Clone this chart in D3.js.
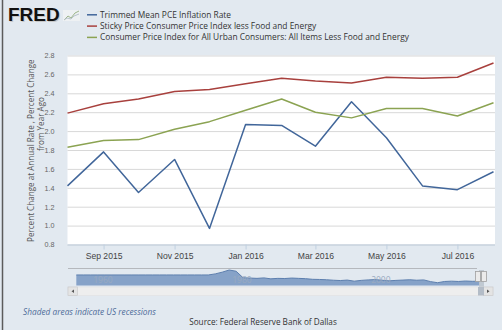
<!DOCTYPE html>
<html>
<head>
<meta charset="utf-8">
<script src="https://cdn.jsdelivr.net/npm/d3@7"></script>
<style>
  body { margin: 0; background: #fff; }
  svg { display: block; font-family: "Open Sans", sans-serif; }
</style>
</head>
<body>
<div id="chart"></div>
<script>
// monthly observations, Aug 2015 .. Aug 2016
const months = ["2015-08-01", "2015-09-01", "2015-10-01", "2015-11-01", "2015-12-01", "2016-01-01",
  "2016-02-01", "2016-03-01", "2016-04-01", "2016-05-01", "2016-06-01", "2016-07-01", "2016-08-01"];
const trimmedPce = [1.42, 1.78, 1.35, 1.70, 0.97, 2.07, 2.06, 1.84, 2.31, 1.93, 1.42, 1.38, 1.57];
const stickyCpi = [2.19, 2.29, 2.34, 2.42, 2.44, 2.50, 2.56, 2.53, 2.51, 2.57, 2.56, 2.57, 2.72];
const coreCpi = [1.83, 1.90, 1.91, 2.02, 2.10, 2.22, 2.34, 2.20, 2.14, 2.24, 2.24, 2.16, 2.30];

const seriesNames = [
  "Trimmed Mean PCE Inflation Rate",
  "Sticky Price Consumer Price Index less Food and Energy",
  "Consumer Price Index for All Urban Consumers: All Items Less Food and Energy"
];
const seriesColors = ["#41669a", "#a8403d", "#8ba352"];

const yTicks = [0.8, 1.0, 1.2, 1.4, 1.6, 1.8, 2.0, 2.2, 2.4, 2.6, 2.8];
const xTickDates = ["2015-09-01", "2015-11-01", "2016-01-01", "2016-03-01", "2016-05-01", "2016-07-01"];

// navigator overview (yearly, rough reading)
const navYears = d3.range(1958, 2017);
const navValues = [6.8, 6.8, 6.8, 6.8, 6.8, 6.8, 6.8, 6.8, 6.8, 6.8, 6.8, 6.8, 6.8, 6.8, 6.8, 6.8, 6.8, 6.8, 6.8, 6.8,
  7.5, 8.6, 10.0, 9.2, 5.0, 4.8, 4.6, 4.9, 4.3, 4.6, 4.5, 4.8, 4.6, 4.4, 4.0, 3.9, 3.7, 3.4, 3.2, 3.5, 2.8, 3.3,
  3.6, 3.8, 3.4, 3.0, 3.3, 3.5, 3.7, 3.4, 3.6, 2.5, 1.8, 2.6, 2.8, 2.6, 2.9, 2.7, 2.8];
const navTicks = [1960, 1980, 2000];

const W = 502, H = 335;
const parse = d3.utcParse("%Y-%m-%d");

const svg = d3.select("#chart").append("svg")
  .attr("width", W)
  .attr("height", H);

svg.append("rect").attr("width", W).attr("height", 330).attr("fill", "#e2e9f0");
svg.append("line")
  .attr("x1", 2.5).attr("x2", 2.5).attr("y1", 0).attr("y2", 330)
  .attr("stroke", "#5b5b5b").attr("stroke-width", 1.5);

// logo
const logo = svg.append("g");
logo.append("text")
  .attr("x", 8).attr("y", 21)
  .style("font-family", "'Liberation Sans', Arial, sans-serif")
  .style("font-weight", 900)
  .style("font-size", "19px")
  .attr("fill", "#c8c8c8")
  .attr("transform", "translate(1,1)")
  .text("FRED");
logo.append("text")
  .attr("x", 8).attr("y", 21)
  .style("font-family", "'Liberation Sans', Arial, sans-serif")
  .style("font-weight", 900)
  .style("font-size", "19px")
  .attr("fill", "#111")
  .text("FRED");
logo.append("rect")
  .attr("x", 63).attr("y", 10).attr("width", 17).attr("height", 11)
  .attr("fill", "#eef1f3");
logo.append("path")
  .attr("d", "M64,20 L68,16 L71,18 L75,13 L79,11")
  .attr("fill", "none").attr("stroke", "#9db58a").attr("stroke-width", 1);
logo.append("path")
  .attr("d", "M64,20 L67,18 L71,19 L74,16 L79,14")
  .attr("fill", "none").attr("stroke", "#b9c3cc").attr("stroke-width", 1);

// legend
const legend = svg.append("g").selectAll("g")
  .data(seriesNames)
  .join("g")
  .attr("transform", (d, i) => `translate(87,${14.8 + i * 11.3})`);
legend.append("line")
  .attr("x1", 0).attr("x2", 10)
  .attr("stroke", (d, i) => seriesColors[i])
  .attr("stroke-width", 1.5);
legend.append("text")
  .attr("x", 13).attr("dy", "0.35em")
  .style("font-size", "8.4px")
  .attr("fill", "#333")
  .text(d => d);

// main plot
const plot = { left: 67.5, right: 495, top: 55.5, bottom: 244.5 };
const x = d3.scaleUtc()
  .domain([parse(months[0]), parse(months[months.length - 1])])
  .range([plot.left, 493.5]);
const y = d3.scaleLinear()
  .domain([0.8, 2.8])
  .range([plot.bottom, plot.top]);

svg.append("rect")
  .attr("x", plot.left).attr("y", plot.top)
  .attr("width", plot.right - plot.left).attr("height", plot.bottom - plot.top)
  .attr("fill", "#fff");

svg.append("g")
  .attr("transform", `translate(${plot.left},0)`)
  .call(d3.axisLeft(y).tickValues(yTicks).tickSize(-(plot.right - plot.left)).tickFormat(d3.format(".1f")).tickPadding(13))
  .call(g => g.select(".domain").remove())
  .call(g => g.selectAll(".tick line").attr("stroke", "#d8d8d8"))
  .call(g => g.selectAll(".tick text").attr("fill", "#666").style("font-size", "7.2px").style("font-family", null));

svg.append("g")
  .attr("transform", `translate(0,${plot.bottom})`)
  .call(d3.axisBottom(x).tickValues(xTickDates.map(parse)).tickFormat(d3.utcFormat("%b %Y")).tickSize(5).tickPadding(3.5))
  .call(g => g.select(".domain").attr("d", `M${plot.left},0.5H${plot.right}`).attr("stroke", "#c0d0e0"))
  .call(g => g.selectAll(".tick line").attr("stroke", "#c0d0e0"))
  .call(g => g.selectAll(".tick text").attr("fill", "#444").style("font-size", "8.6px").style("font-family", null));

const yTitle = svg.append("text")
  .attr("transform", "translate(31,150.7) rotate(-90)")
  .attr("text-anchor", "middle")
  .attr("fill", "#555")
  .style("font-size", "8.1px");
yTitle.append("tspan").attr("x", 0).attr("y", 0).attr("dy", "0.35em").text("Percent Change at Annual Rate , Percent Change");
yTitle.append("tspan").attr("x", 26.7).attr("y", 10.5).attr("dy", "0.35em").text("from Year Ago");

const line = d3.line()
  .x((d, i) => x(parse(months[i])))
  .y(d => y(d));

svg.append("g").selectAll("path")
  .data([trimmedPce, stickyCpi, coreCpi])
  .join("path")
  .attr("d", line)
  .attr("fill", "none")
  .attr("stroke", (d, i) => seriesColors[i])
  .attr("stroke-width", 1.5)
  .attr("stroke-linejoin", "round");

// navigator
const navX = d3.scaleLinear()
  .domain([1958.2, 2016.1])
  .range([77.7, 480]);
const navY = d3.scaleLinear()
  .domain([0, 10])
  .range([285.5, 270]);

svg.append("line")
  .attr("x1", 68).attr("x2", 477).attr("y1", 268.5).attr("y2", 268.5)
  .attr("stroke", "#b5b8bd");

svg.append("path")
  .datum(navValues)
  .attr("d", d3.area().x((d, i) => navX(navYears[i])).y0(navY(0)).y1(d => navY(d)))
  .attr("fill", "#86a2c8");
svg.append("path")
  .datum(navValues)
  .attr("d", d3.line().x((d, i) => navX(navYears[i])).y(d => navY(d)))
  .attr("fill", "none").attr("stroke", "#5d7fae").attr("stroke-width", 1);

svg.append("g").selectAll("text")
  .data(navTicks)
  .join("text")
  .attr("x", d => navX(d) + 3)
  .attr("y", 283)
  .attr("fill", "#9aaac0")
  .style("font-size", "8.5px")
  .text(d => d);

// selection handles
svg.append("rect").attr("x", 479).attr("y", 270).attr("width", 5).attr("height", 17).attr("fill", "#b8c0ca").attr("opacity", 0.8);
svg.selectAll(".handle")
  .data([478, 484])
  .join("rect")
  .attr("class", "handle")
  .attr("x", d => d - 2.5).attr("y", 271.5).attr("width", 5).attr("height", 10)
  .attr("fill", "#ebebeb").attr("stroke", "#a0a0a0").attr("stroke-width", 0.8);

// scrollbar
svg.append("rect").attr("x", 68).attr("y", 287).attr("width", 425).attr("height", 8.5).attr("fill", "#eeeeee").attr("stroke", "#e0e0e0").attr("stroke-width", 0.5);
svg.append("rect").attr("x", 68).attr("y", 287).attr("width", 9.5).attr("height", 8.5).attr("fill", "#e4e4e4").attr("stroke", "#c8c8c8").attr("stroke-width", 0.6);
svg.append("rect").attr("x", 483.5).attr("y", 287).attr("width", 9.5).attr("height", 8.5).attr("fill", "#e4e4e4").attr("stroke", "#c8c8c8").attr("stroke-width", 0.6);
svg.append("rect").attr("x", 478).attr("y", 287).attr("width", 6).attr("height", 8.5).attr("fill", "#b3bcc7");
svg.append("path").attr("d", "M74,289.5 L71.5,291.2 L74,293 Z").attr("fill", "#555");
svg.append("path").attr("d", "M487,289.5 L489.5,291.2 L487,293 Z").attr("fill", "#555");

// footnotes
svg.append("text")
  .attr("x", 23).attr("y", 314.5)
  .attr("fill", "#4e6c99")
  .style("font-size", "8.3px")
  .style("font-style", "italic")
  .text("Shaded areas indicate US recessions");
svg.append("text")
  .attr("x", 263).attr("y", 325)
  .attr("text-anchor", "middle")
  .attr("fill", "#333")
  .style("font-size", "8.2px")
  .text("Source: Federal Reserve Bank of Dallas");
</script>
</body>
</html>
